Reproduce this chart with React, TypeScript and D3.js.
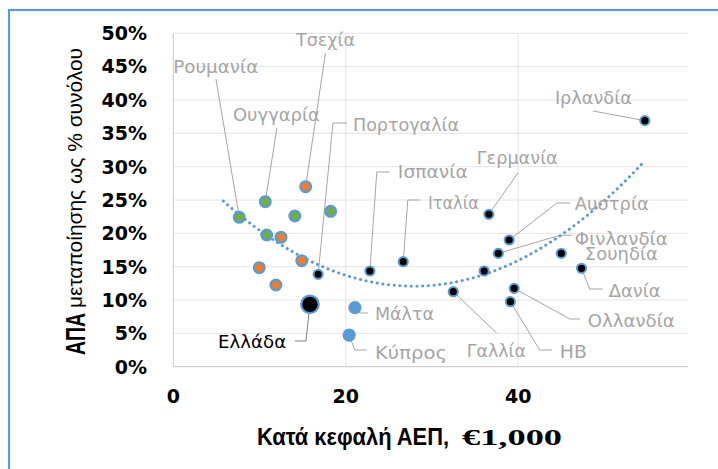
import React from 'react';
import * as d3 from 'd3';

// ---------- data ----------
const blackNames = ['Ελλάδα', 'Πορτογαλία', 'Ισπανία', 'Ιταλία', 'Γαλλία', '', 'Γερμανία', 'Φινλανδία', 'Αυστρία', 'ΗΒ', 'Ολλανδία', 'Σουηδία', 'Δανία', 'Ιρλανδία'];
const blackGdp = [15.85, 16.8, 22.8, 26.67, 32.47, 36.06, 36.6, 37.7, 38.96, 39.1, 39.54, 45.0, 47.35, 54.7];
const blackShare = [9.35, 13.85, 14.35, 15.75, 11.25, 14.35, 22.85, 17.0, 19.0, 9.75, 11.75, 17.0, 14.75, 36.9];

const orangeNames = ['Τσεχία', '', '', '', ''];
const orangeGdp = [15.35, 12.49, 14.9, 9.97, 11.9];
const orangeShare = [27.0, 19.4, 15.9, 14.85, 12.25];

const greenNames = ['Ρουμανία', 'Ουγγαρία', '', '', ''];
const greenGdp = [7.65, 10.67, 14.1, 18.25, 10.83];
const greenShare = [22.4, 24.75, 22.6, 23.3, 19.75];

const blueNames = ['Μάλτα', 'Κύπρος'];
const blueGdp = [21.07, 20.4];
const blueShare = [8.85, 4.75];

// polynomial trendline (order 2): share = c0 + c1*x + c2*x^2
const trendCoef = [32.44, -1.4605, 0.02619];
const trendRange = [5.8, 54.4];

const yTicks = [0, 5, 10, 15, 20, 25, 30, 35, 40, 45, 50];
const xTicks = [0, 20, 40];

const xTitleMain = 'Κατά κεφαλή ΑΕΠ,';
const xTitleUnit = '€1,000';
const yTitleBold = 'ΑΠΑ';
const yTitleRest = 'μεταποίησης ως % συνόλου';

// ---------- label layout (data units) ----------
type Lab = { name: string; lx: number; ly: number; w: number; leader: [number, number][]; dark?: boolean };
const labelLayout: Lab[] = [
  { name: 'Ρουμανία', lx: 0, ly: 44.95, w: 85, leader: [[4.95, 43.15]] },
  { name: 'Τσεχία', lx: 14.23, ly: 49.0, w: 59, leader: [[17.65, 47.05]] },
  { name: 'Ουγγαρία', lx: 6.92, ly: 37.75, w: 87, leader: [[12.02, 35.8]] },
  { name: 'Πορτογαλία', lx: 20.84, ly: 36.25, w: 106, leader: [[20.14, 36.55], [18.52, 36.55]] },
  { name: 'Ιρλανδία', lx: 44.26, ly: 40.3, w: 77, leader: [[48.66, 38.35]] },
  { name: 'Ισπανία', lx: 26.05, ly: 29.2, w: 70, leader: [[25.1, 29.2], [23.6, 29.2]] },
  { name: 'Γερμανία', lx: 35.2, ly: 31.3, w: 81, leader: [[39.97, 29.05]] },
  { name: 'Ιταλία', lx: 29.53, ly: 24.55, w: 51, leader: [[28.6, 25.0], [27.2, 25.0]] },
  { name: 'Αυστρία', lx: 46.57, ly: 24.4, w: 74, leader: [[46.0, 24.55], [44.5, 24.55]] },
  { name: 'Φινλανδία', lx: 46.57, ly: 19.25, w: 93, leader: [[46.2, 19.7], [44.85, 19.7]] },
  { name: 'Σουηδία', lx: 47.73, ly: 16.9, w: 73, leader: [] },
  { name: 'Δανία', lx: 50.5, ly: 11.35, w: 52, leader: [[49.83, 11.65], [48.3, 11.65]] },
  { name: 'Ολλανδία', lx: 48.08, ly: 7.0, w: 87, leader: [[47.15, 7.15], [46.0, 7.15]] },
  { name: 'ΗΒ', lx: 44.83, ly: 2.35, w: 27, leader: [[43.9, 2.5], [42.5, 2.5]] },
  { name: 'Γαλλία', lx: 34.05, ly: 2.5, w: 59, leader: [[37.5, 5.05]] },
  { name: 'Μάλτα', lx: 23.39, ly: 8.05, w: 59, leader: [[22.57, 8.05], [21.63, 8.05]] },
  { name: 'Κύπρος', lx: 23.39, ly: 2.2, w: 72, leader: [[22.45, 2.5], [21.06, 2.5]] },
  { name: 'Ελλάδα', lx: 5.2, ly: 3.85, w: 68, leader: [[14.1, 3.85], [15.38, 3.85]], dark: true },
];

const BLUE = '#5B9BD5';
const ORANGE = '#ED7D31';
const GREEN = '#70AD47';
const LABEL_GRAY = '#A5A5A5';

export default function App() {
  const W = 718, H = 469;
  const x = d3.scaleLinear().domain([0, 59.7]).range([173.3, 688]);
  const y = d3.scaleLinear().domain([0, 50]).range([366.7, 33.3]);

  const allPts: Record<string, [number, number]> = {};
  blackNames.forEach((n, i) => { if (n) allPts[n] = [blackGdp[i], blackShare[i]]; });
  orangeNames.forEach((n, i) => { if (n) allPts[n] = [orangeGdp[i], orangeShare[i]]; });
  greenNames.forEach((n, i) => { if (n) allPts[n] = [greenGdp[i], greenShare[i]]; });
  blueNames.forEach((n, i) => { if (n) allPts[n] = [blueGdp[i], blueShare[i]]; });

  const trendX = d3.range(trendRange[0], trendRange[1] + 0.001, 0.25);
  const trendLine = d3.line<number>()
    .x((v) => x(v))
    .y((v) => y(trendCoef[0] + trendCoef[1] * v + trendCoef[2] * v * v))
    .curve(d3.curveLinear)(trendX) || '';

  const leaderLine = d3.line<[number, number]>().x((d) => x(d[0])).y((d) => y(d[1]));

  const xMin = x.domain()[0], xMax = x.domain()[1];

  return (
    <svg width={W} height={H} style={{ position: 'absolute', left: 0, top: 0, background: '#fff' }}>
      <rect x={0} y={0} width={W} height={H} fill="#fff" />
      <rect x={9} y={10} width={730} height={480} fill="none" stroke={BLUE} strokeWidth={2.2} />

      {/* gridlines */}
      {yTicks.filter((t) => t > 0).map((t) => (
        <line key={'gy' + t} x1={x(xMin)} x2={x(xMax)} y1={y(t)} y2={y(t)} stroke="#E4E4E4" strokeWidth={1} />
      ))}
      {xTicks.filter((t) => t > 0).map((t) => (
        <line key={'gx' + t} x1={x(t)} x2={x(t)} y1={y(0)} y2={y(50)} stroke="#E4E4E4" strokeWidth={1} />
      ))}
      <line x1={x(0)} x2={x(0)} y1={y(0)} y2={y(50)} stroke="#C8C8C8" strokeWidth={1} />
      <line x1={x(xMin)} x2={x(xMax)} y1={y(0)} y2={y(0)} stroke="#D0D0D0" strokeWidth={1.2} />

      {/* tick labels */}
      {yTicks.map((t) => (
        <text key={'ty' + t} x={147} y={y(t)} dy="0.36em" textAnchor="end"
          fontFamily="DejaVu Sans, sans-serif" fontWeight="bold" fontSize={19} fill="#000">{t + '%'}</text>
      ))}
      {xTicks.map((t) => (
        <text key={'tx' + t} x={x(t)} y={403} textAnchor="middle"
          fontFamily="DejaVu Sans, sans-serif" fontWeight="bold" fontSize={19} fill="#000">{t}</text>
      ))}

      {/* axis titles */}
      <text x={257} y={445} textLength={192} lengthAdjust="spacingAndGlyphs"
        fontFamily="Liberation Sans, Arial, sans-serif" fontWeight="bold" fontSize={23} fill="#000">{xTitleMain}</text>
      <text x={462} y={445} textLength={100} lengthAdjust="spacingAndGlyphs"
        fontFamily="Liberation Serif, Times New Roman, serif" fontWeight="bold" fontSize={24} fill="#000">{xTitleUnit}</text>

      <text transform="translate(85,355) rotate(-90)" textLength={42} lengthAdjust="spacingAndGlyphs"
        fontFamily="Liberation Sans Narrow, Liberation Sans, Arial, sans-serif" fontWeight="bold" fontSize={27} fill="#000">{yTitleBold}</text>
      <text transform="translate(82,308) rotate(-90)" textLength={260} lengthAdjust="spacingAndGlyphs"
        fontFamily="Liberation Sans Narrow, Liberation Sans, Arial, sans-serif" fontSize={20} fill="#000">{yTitleRest}</text>

      {/* leader lines */}
      {labelLayout.filter((l) => l.leader.length > 0).map((l) => {
        const p = allPts[l.name];
        const pts = [...l.leader, p] as [number, number][];
        return <path key={'ld' + l.name} d={leaderLine(pts) || ''} fill="none" stroke={l.dark ? '#7F7F7F' : LABEL_GRAY} strokeWidth={1} />;
      })}

      {/* trendline */}
      <path d={trendLine} fill="none" stroke={BLUE} strokeWidth={3} strokeDasharray="0.1 5.6" strokeLinecap="round" />

      {/* markers */}
      {blueGdp.map((v, i) => (
        <circle key={'b' + i} cx={x(v)} cy={y(blueShare[i])} r={6.6} fill={BLUE} />
      ))}
      {greenGdp.map((v, i) => (
        <circle key={'g' + i} cx={x(v)} cy={y(greenShare[i])} r={5.3} fill={GREEN} stroke={BLUE} strokeWidth={2.4} />
      ))}
      {orangeGdp.map((v, i) => (
        <circle key={'o' + i} cx={x(v)} cy={y(orangeShare[i])} r={5.3} fill={ORANGE} stroke={BLUE} strokeWidth={2.4} />
      ))}
      {blackGdp.map((v, i) => (
        <circle key={'k' + i} cx={x(v)} cy={y(blackShare[i])} r={blackNames[i] === 'Ελλάδα' ? 8.8 : 4.6}
          fill="#000" stroke={BLUE} strokeWidth={blackNames[i] === 'Ελλάδα' ? 2.2 : 2} />
      ))}

      {/* labels */}
      {labelLayout.map((l) => (
        <text key={'lb' + l.name} x={x(l.lx)} y={y(l.ly)} dy="0.36em" textLength={l.w} lengthAdjust="spacingAndGlyphs"
          fontFamily="DejaVu Sans, sans-serif" fontSize={18} fill={l.dark ? '#000' : LABEL_GRAY}>{l.name}</text>
      ))}
    </svg>
  );
}
